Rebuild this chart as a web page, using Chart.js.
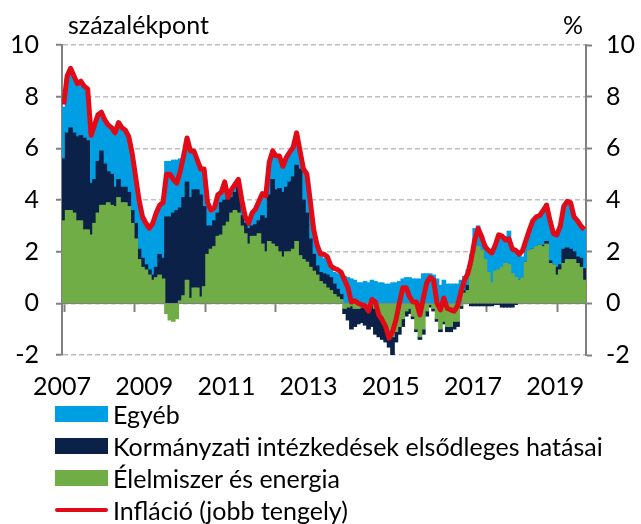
<!DOCTYPE html>
<html><head><meta charset="utf-8">
<script src="https://cdn.jsdelivr.net/npm/chart.js@4"></script>
<style>
html,body{margin:0;padding:0;background:#fff;}
#wrap{position:relative;width:641px;height:524px;overflow:hidden;}
#c{position:absolute;left:0;top:0;}
.t{position:absolute;font-family:Lato,sans-serif;color:#000;white-space:nowrap;line-height:1;}
#legend{position:absolute;left:55px;top:398px;font-family:Lato,sans-serif;}
.row{display:flex;align-items:center;height:32px;white-space:nowrap;}
.sw{width:53px;margin-right:5px;flex:none;}
</style></head><body>
<div id="wrap"><canvas id="c" width="641" height="524"></canvas>
<div class="t" id="unitL">százalékpont</div><div class="t" id="unitR">%</div>
<div id="legend"></div></div>
<script>
// ---- data (monthly, Jan 2007 – Sep 2019) ----
const startYear = 2007;
const months = [];
for (let i = 0; i < 153; i++) months.push((startYear + Math.floor(i / 12)) + '-' + String(i % 12 + 1).padStart(2, '0'));
const yearLabels = ['2007','2009','2011','2013','2015','2017','2019'];
const yTicks = [-2, 0, 2, 4, 6, 8, 10];
const seriesNames = ['Egyéb', 'Kormányzati intézkedések elsődleges hatásai', 'Élelmiszer és energia', 'Infláció (jobb tengely)'];

const food = [
 3.2,3.6,3.6,3.5,3.2,3.2,2.85,2.85,2.65,3.1,
 3.5,3.8,3.8,3.9,3.8,3.75,4.1,3.9,3.9,3.75,
 3.1,2.5,1.7,1.4,1.3,1.1,0.9,1.0,1.1,0.95,
 -0.4,-0.65,-0.7,-0.6,0.1,0.3,0.9,0.2,0.6,0.6,
 0.25,0.65,1.9,2.1,2.2,2.6,2.65,3.0,3.15,3.5,
 3.6,3.5,3.0,2.7,2.3,2.6,2.6,2.7,2.3,2.0,
 2.4,2.3,2.2,2.0,1.8,2.0,2.0,2.1,2.4,1.85,
 1.7,1.6,1.4,1.25,1.1,0.85,0.75,0.6,0.5,0.35,
 0.25,0.15,-0.2,-0.15,-0.1,-0.2,-0.2,-0.15,-0.15,-0.2,
 -0.1,-0.2,-0.3,-0.5,-0.8,-1.2,-1.3,-1.1,-0.9,-0.6,
 -0.3,-0.2,-0.5,-1.0,-1.3,-1.0,-0.3,-0.05,-0.2,-0.6,
 -1.0,-0.7,-0.9,-0.9,-0.7,-0.7,-0.1,0.4,0.5,1.4,
 1.95,2.2,2.05,1.7,1.2,0.8,1.25,1.3,1.4,1.55,
 1.5,1.15,1.0,0.9,1.0,1.6,2.05,2.1,2.2,2.25,
 2.2,2.3,1.55,1.5,1.1,1.3,1.55,1.7,1.7,1.7,
 1.55,1.4,0.9];
const gov = [
 2.4,3.0,3.2,3.1,3.25,3.3,3.55,3.45,2.0,1.7,
 2.0,2.1,1.6,1.2,1.2,0.75,0.7,0.6,0.6,0.55,
 0.5,0.6,0.4,0.35,0.2,0.2,0.2,0.4,0.8,0.8,
 3.35,3.35,3.5,3.6,3.6,3.8,3.8,3.9,3.8,3.8,
 3.95,3.1,1.1,0.9,1.0,0.9,1.25,1.0,0.95,0.6,
 0.7,1.0,0.4,0.4,0.6,0.4,0.45,0.5,1.1,1.3,
 1.8,2.5,2.2,2.45,2.5,2.5,2.7,2.8,2.95,3.35,
 2.3,1.9,1.1,0.65,0.35,0.35,0.4,0.5,0.5,0.4,
 0.3,0.2,-0.2,-0.5,-0.9,-0.7,-0.6,-0.6,-0.7,-0.8,
 -0.8,-1.0,-1.0,-0.9,-0.7,-0.5,-0.75,-0.4,-0.3,-0.3,
 -0.2,-0.2,-0.1,-0.1,-0.1,-0.2,-0.2,-0.1,-0.1,-0.1,
 -0.1,-0.1,-0.2,-0.2,-0.3,-0.2,-0.1,0.1,0.2,-0.1,
 -0.1,-0.1,-0.1,-0.1,-0.1,-0.1,-0.05,-0.05,-0.15,-0.15,
 -0.15,-0.15,-0.05,0,0,0,0,0,0,0,
 0.05,0.1,0.1,0,0.3,0.2,0.55,0.45,0.4,0.3,
 0.25,0.35,0.45];
const other = [
 2.0,2.1,2.2,2.1,1.95,2.0,1.9,1.9,1.75,2.0,
 1.7,1.4,1.6,1.7,1.7,2.0,2.1,2.2,2.1,2.05,
 2.1,1.7,1.8,1.5,1.5,1.5,1.9,2.0,1.8,2.05,
 2.15,2.15,2.05,1.95,1.9,1.65,1.6,1.75,1.4,1.05,
 0.95,1.35,0.8,0.5,0.4,0.6,0.3,0.6,0.0,0.25,
 0.25,0.2,0.5,0.2,0.15,0.4,0.5,0.65,0.75,0.75,
 1.15,1.0,1.2,1.15,0.9,1.05,1.05,1.05,1.1,0.6,
 1.1,1.4,1.35,0.85,0.7,0.6,0.6,0.55,0.35,0.45,
 0.6,0.75,1.05,1.0,0.95,0.9,0.8,0.8,0.85,0.8,
 0.9,0.85,0.8,0.8,0.75,0.75,0.8,0.8,0.85,0.95,
 1.0,1.0,0.95,0.95,0.95,1.15,1.15,1.15,1.1,0.95,
 0.7,0.9,0.75,0.75,0.75,0.75,0.9,0.55,0.6,0.5,
 0.95,0.8,0.45,0.6,0.9,1.2,1.0,1.35,1.2,1.05,
 1.3,0.95,0.95,1.0,0.8,0.7,0.6,1.1,1.15,1.15,
 1.35,1.45,1.55,1.25,1.25,1.5,1.6,1.7,1.65,1.35,
 1.4,1.25,1.5];
const inflation = [
 7.7,8.8,9.1,8.8,8.5,8.6,8.4,8.3,6.5,6.9,
 7.3,7.4,7.1,6.9,6.8,6.6,7.0,6.8,6.7,6.45,
 5.8,4.9,4.0,3.35,3.1,2.9,3.1,3.5,3.8,3.9,
 5.0,5.0,4.8,4.65,5.1,5.7,6.4,5.9,5.9,5.55,
 5.2,5.2,3.9,3.6,3.7,4.2,4.3,4.7,4.1,4.4,
 4.6,4.8,4.0,3.35,3.1,3.5,3.65,3.95,4.25,4.15,
 5.45,5.9,5.7,5.7,5.3,5.65,5.85,6.05,6.6,5.9,
 5.2,5.0,3.95,2.85,2.25,1.9,1.9,1.8,1.45,1.35,
 1.3,1.2,0.9,0.6,0.05,0.1,0.0,-0.05,-0.1,-0.3,
 0.15,0.05,-0.45,-0.65,-0.9,-1.35,-1.1,-0.65,0.0,0.6,
 0.6,0.25,0.05,0.05,-0.45,0.2,0.8,1.0,0.9,0.0,
 -0.25,0.2,-0.2,-0.25,-0.3,-0.1,0.45,0.9,1.15,1.7,
 2.45,2.9,2.6,2.2,2.05,1.95,2.25,2.65,2.6,2.45,
 2.5,2.1,2.05,1.9,2.05,2.45,2.85,3.2,3.35,3.4,
 3.6,3.8,3.2,2.7,2.65,3.0,3.75,3.95,3.9,3.35,
 3.2,3.0,2.85];

// ---- styling ----
const FONT = 'Lato';
const COLORS = { other: '#009FE3', gov: '#0C2148', food: '#70AD47', infl: '#E10A17' };
const GRID = '#BFBFBF', AXIS = '#808080';

function fitSize(text, target) {
  const c = document.createElement('canvas').getContext('2d');
  c.font = '100px ' + FONT;
  return Math.round(100 * target / c.measureText(text).width * 2) / 2;
}
const FS = fitSize(seriesNames[1], 486);

const toXY = arr => arr.map((v, i) => ({ x: i, y: v }));
const xMin = -0.5, xMax = months.length - 0.5;
const yearTicks = s => { s.ticks = yearLabels.map((_, k) => ({ value: xMin + 24 * k })); };
const valTicks = s => { s.ticks = yTicks.map(v => ({ value: v })); };

const chart = new Chart(document.getElementById('c'), {
  type: 'bar',
  data: {
    datasets: [
      { type: 'line', label: seriesNames[3], data: toXY(inflation), xAxisID: 'x', yAxisID: 'y2',
        borderColor: COLORS.infl, backgroundColor: COLORS.infl, borderWidth: 5, pointRadius: 0,
        tension: 0, order: 0, borderJoinStyle: 'round', borderCapStyle: 'butt' },
      { label: seriesNames[2], data: toXY(food), backgroundColor: COLORS.food, stack: 's', order: 1, xAxisID: 'x', yAxisID: 'y' },
      { label: seriesNames[1], data: toXY(gov), backgroundColor: COLORS.gov, stack: 's', order: 1, xAxisID: 'x', yAxisID: 'y' },
      { label: seriesNames[0], data: toXY(other), backgroundColor: COLORS.other, stack: 's', order: 1, xAxisID: 'x', yAxisID: 'y' }
    ]
  },
  options: {
    responsive: false, animation: false, devicePixelRatio: 1,
    layout: { padding: { top: 45, left: 0, right: 0, bottom: 0 } },
    plugins: { legend: { display: false }, tooltip: { enabled: false } },
    datasets: { bar: { barThickness: 4, borderWidth: 0 } },
    scales: {
      x: {
        type: 'linear', position: 'bottom', min: xMin, max: xMax, stacked: true, offset: false,
        afterBuildTicks: yearTicks,
        afterFit: s => { s.height = 524 - 355; },
        ticks: { callback: (v, i) => yearLabels[i], autoSkip: false, maxRotation: 0, padding: 17,
                 color: '#000', font: { family: FONT, size: FS } },
        grid: { display: false, drawTicks: false }, border: { display: false }
      },
      xz: {
        type: 'linear', position: { y: 0 }, min: xMin, max: xMax,
        afterBuildTicks: yearTicks,
        ticks: { display: false },
        grid: { drawOnChartArea: false, drawTicks: true, tickLength: 8, tickColor: AXIS, tickWidth: 2 },
        border: { display: true, color: AXIS, width: 2 }
      },
      y: {
        type: 'linear', position: 'left', min: -2, max: 10, stacked: true,
        afterBuildTicks: valTicks,
        afterFit: s => { s.width = 62; },
        ticks: { padding: 17, color: '#000', font: { family: FONT, size: FS } },
        grid: { color: GRID, lineWidth: 1.5, drawTicks: true, tickLength: 6, tickColor: AXIS, tickWidth: 2, tickBorderDash: [] },
        border: { display: true, color: AXIS, width: 2, dash: [5, 3] }
      },
      y2: {
        type: 'linear', position: 'right', min: -2, max: 10,
        afterBuildTicks: valTicks,
        afterFit: s => { s.width = 55; },
        ticks: { padding: 14, color: '#000', font: { family: FONT, size: FS } },
        grid: { drawOnChartArea: false, drawTicks: true, tickLength: 6, tickColor: AXIS, tickWidth: 2 },
        border: { display: true, color: AXIS, width: 2 }
      }
    }
  }
});

// unit labels
const uL = document.getElementById('unitL'), uR = document.getElementById('unitR');
[uL, uR].forEach(e => { e.style.fontSize = FS + 'px'; e.style.top = '12px'; });
uL.style.left = '68px'; uR.style.left = '563px';

// legend (built from the chart's datasets)
const lg = document.getElementById('legend');
lg.style.fontSize = FS + 'px';
const order = [3, 2, 1, 0];
order.forEach(di => {
  const ds = chart.data.datasets[di];
  const row = document.createElement('div'); row.className = 'row';
  const sw = document.createElement('div'); sw.className = 'sw';
  if (ds.type === 'line') { sw.style.height = '4px'; sw.style.background = ds.borderColor; sw.style.borderRadius = '2px'; }
  else { sw.style.height = '16px'; sw.style.background = ds.backgroundColor; }
  const tx = document.createElement('span'); tx.textContent = ds.label;
  row.appendChild(sw); row.appendChild(tx); lg.appendChild(row);
});
</script>
</body></html>
